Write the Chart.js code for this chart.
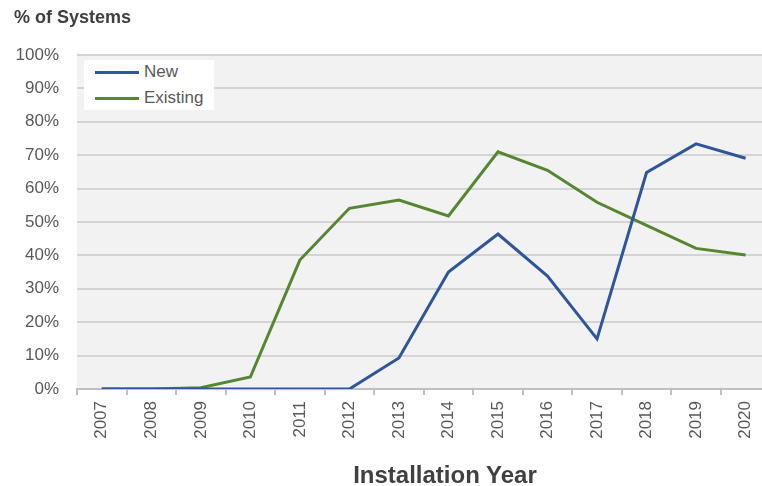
<!DOCTYPE html>
<html>
<head>
<meta charset="utf-8">
<script src="https://cdn.jsdelivr.net/npm/chart.js@4"></script>
<style>
  html, body { margin: 0; padding: 0; background: #fff; overflow: hidden; width: 762px; height: 486px; }
  #wrap { position: absolute; left: 0; top: 0; width: 772px; height: 486px; }
  #ytitle { position: absolute; left: 14px; top: 7px; font: bold 18px "Liberation Sans", Arial, sans-serif; color: #404040; }
  #xtitle { position: absolute; left: 352px; top: 461px; width: 186px; text-align: center; font: bold 24px "Liberation Sans", Arial, sans-serif; color: #404040; white-space: nowrap; }
  #legend { position: absolute; left: 84px; top: 60px; width: 130px; height: 50px; background: #fff; }
  .item { position: absolute; left: 11px; height: 20px; font: 17px "Liberation Sans", Arial, sans-serif; color: #595959; white-space: nowrap; }
  .item span.sw { position: absolute; left: 0; top: 9px; width: 44px; height: 3px; }
  .item span.lb { position: absolute; left: 49px; top: 0; line-height: 20px; }
</style>
</head>
<body>
<div id="wrap">
  <canvas id="chart" width="772" height="486"></canvas>
  <div id="ytitle">% of Systems</div>
  <div id="xtitle">Installation Year</div>
  <div id="legend"></div>
</div>
<script>
const years = ['2007', '2008', '2009', '2010', '2011', '2012', '2013', '2014', '2015', '2016', '2017', '2018', '2019', '2020'];
const newSystems = [0, 0, 0, 0, 0, 0, 9.3, 35, 46.4, 33.8, 15, 64.8, 73.4, 69.1];
const existingSystems = [0, 0, 0.4, 3.6, 38.6, 54.1, 56.6, 51.8, 71, 65.5, 55.9, 49, 42.1, 40.1];
const yTicks = [0, 10, 20, 30, 40, 50, 60, 70, 80, 90, 100];

const plotBg = {
    id: 'plotBg',
    beforeDraw(chart) {
        const a = chart.chartArea;
        const ctx = chart.ctx;
        ctx.save();
        ctx.fillStyle = '#f2f2f2';
        ctx.fillRect(a.left, a.top, a.right - a.left, a.bottom - a.top);
        ctx.restore();
    }
};

const ctx = document.getElementById('chart').getContext('2d');
const chart = new Chart(ctx, {
    type: 'line',
    data: {
        labels: years,
        datasets: [
            { label: 'New', data: newSystems, borderColor: '#2F559B', borderWidth: 3, pointRadius: 0, tension: 0, fill: false },
            { label: 'Existing', data: existingSystems, borderColor: '#558632', borderWidth: 3, pointRadius: 0, tension: 0, fill: false },
        ]
    },
    options: {
        responsive: false,
        animation: false,
        layout: { padding: { top: 55, right: 0, left: 0, bottom: 0 } },
        plugins: { legend: { display: false }, tooltip: { enabled: false } },
        scales: {
            x: {
                offset: true,
                grid: { offset: true, drawOnChartArea: false, drawTicks: true, tickLength: 6, color: '#bfbfbf', lineWidth: 2 },
                border: { color: '#bfbfbf', width: 2 },
                ticks: { minRotation: 90, maxRotation: 90, padding: 6, color: '#595959', font: { family: 'Liberation Sans', size: 17 } },
                afterFit(scale) { scale.height = 97; }
            },
            y: {
                min: 0,
                max: 100,
                afterBuildTicks(scale) { scale.ticks = yTicks.map(v => ({ value: v })); },
                grid: { color: '#d4d4d4', lineWidth: 2, drawTicks: false },
                border: { display: false },
                ticks: { padding: 18, color: '#595959', font: { family: 'Liberation Sans', size: 17 }, callback: v => v + '%' },
                afterFit(scale) { scale.width = 77; }
            }
        }
    },
    plugins: [plotBg]
});

const legend = document.getElementById('legend');
chart.data.datasets.forEach((ds, i) => {
    const item = document.createElement('div');
    item.className = 'item';
    item.style.top = (2 + i * 26) + 'px';
    item.innerHTML = `<span class="sw" style="background:${ds.borderColor}"></span><span class="lb">${ds.label}</span>`;
    legend.appendChild(item);
});
</script>
</body>
</html>
